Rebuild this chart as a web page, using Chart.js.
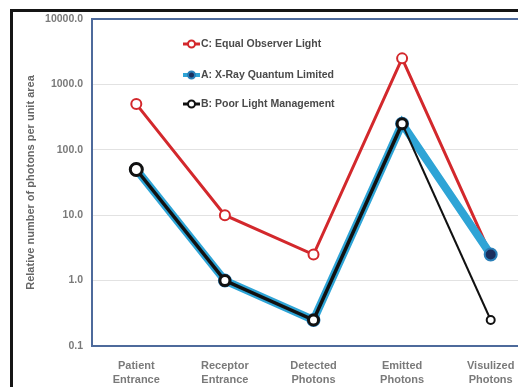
<!DOCTYPE html>
<html>
<head>
<meta charset="utf-8">
<script src="https://cdn.jsdelivr.net/npm/chart.js@4.4.1/dist/chart.umd.min.js"></script>
<style>
    html, body { margin: 0; padding: 0; background: #fff; overflow: hidden; }
    #frame {
        position: absolute; left: 10px; top: 9px; width: 520px; height: 390px;
        border-left: 3px solid #151515; border-top: 3px solid #151515;
    }
    #chart { position: absolute; left: 0; top: 0; }
</style>
</head>
<body>
<div id="frame"></div>
<canvas id="chart" width="545" height="387"></canvas>
<script>
// Data
const categories = [
    ['Patient', 'Entrance'],
    ['Receptor', 'Entrance'],
    ['Detected', 'Photons'],
    ['Emitted', 'Photons'],
    ['Visulized', 'Photons']
];
const equalObserver = [500, 10, 2.5, 2500, 2.5];      // C
const xrayQuantum = [50, 1, 0.25, 250, 2.5];          // A
const poorLight = [50, 1, 0.25, 250, 0.25];           // B
const yTicks = [0.1, 1, 10, 100, 1000, 10000];

const labelFont = "'Liberation Sans', Arial, sans-serif";

// Plot area frame
const plotBorder = {
    id: 'plotBorder',
    beforeDatasetsDraw(chart) {
        const { ctx, chartArea: a } = chart;
        ctx.save();
        ctx.strokeStyle = '#4d6a9b';
        ctx.lineWidth = 2;
        ctx.strokeRect(a.left, a.top, a.right - a.left, a.bottom - a.top);
        ctx.restore();
    }
};

// Legend drawn inside the plot area, in the order C, A, B
const innerLegend = {
    id: 'innerLegend',
    afterDatasetsDraw(chart) {
        const { ctx, chartArea: a } = chart;
        const rows = [25, 56, 85];
        ctx.save();
        chart.data.datasets.forEach((ds, i) => {
            const y = a.top + rows[i];
            const x = a.left + 91;
            ctx.strokeStyle = ds.borderColor;
            ctx.lineWidth = ds.legendLine;
            ctx.beginPath();
            ctx.moveTo(x, y);
            ctx.lineTo(x + 17, y);
            ctx.stroke();
            ctx.beginPath();
            ctx.arc(x + 8.5, y, 3.5, 0, Math.PI * 2);
            ctx.fillStyle = ds.pointBackgroundColor;
            ctx.fill();
            ctx.lineWidth = 2;
            ctx.strokeStyle = ds.pointBorderColor;
            ctx.stroke();
            ctx.fillStyle = '#4a4a4a';
            ctx.font = 'bold 10.5px ' + labelFont;
            ctx.textBaseline = 'middle';
            ctx.fillText(ds.label, x + 18, y + 0.5);
        });
        ctx.restore();
    }
};

new Chart(document.getElementById('chart'), {
    type: 'line',
    data: {
        labels: categories,
        datasets: [
            {
                label: 'C: Equal Observer Light',
                data: equalObserver,
                borderColor: '#d3282c',
                borderWidth: 3,
                pointRadius: 5,
                pointBorderWidth: 2,
                pointBackgroundColor: '#ffffff',
                pointBorderColor: '#d3282c',
                legendLine: 3,
                order: 3
            },
            {
                label: 'A: X-Ray Quantum Limited',
                data: xrayQuantum,
                borderColor: '#2ea4d6',
                borderWidth: 8,
                pointRadius: 6,
                pointBorderWidth: 2,
                pointBackgroundColor: '#1b2f5e',
                pointBorderColor: '#2a7fb8',
                legendLine: 4,
                order: 2
            },
            {
                label: 'B: Poor Light Management',
                data: poorLight,
                borderColor: '#111111',
                borderWidth: 3.5,
                segment: { borderWidth: c => c.p1DataIndex === 4 ? 2 : 3.5 },
                pointRadius: [6, 5, 5, 5, 4],
                pointBorderWidth: [3, 3, 3, 3, 2],
                pointBackgroundColor: '#ffffff',
                pointBorderColor: '#111111',
                legendLine: 3,
                order: 1
            }
        ]
    },
    options: {
        responsive: false,
        animation: false,
        layout: { padding: { left: 24, top: 19, right: 10, bottom: 0 } },
        scales: {
            x: {
                offset: true,
                grid: { display: false },
                border: { display: false },
                ticks: {
                    color: '#7a7a7a',
                    font: { family: labelFont, size: 11, weight: 'bold', lineHeight: 1.3 },
                    padding: 5,
                    maxRotation: 0
                },
                afterFit: s => { s.height = 41; }
            },
            y: {
                type: 'logarithmic',
                min: 0.1,
                max: 10000,
                afterBuildTicks: s => { s.ticks = yTicks.map(v => ({ value: v })); },
                grid: { color: '#e2e2e2', drawTicks: false },
                border: { display: false },
                ticks: {
                    color: '#7a7a7a',
                    font: { family: labelFont, size: 10.5, weight: 'bold' },
                    padding: 9,
                    callback: v => Number(v).toFixed(1)
                },
                title: {
                    display: true,
                    text: 'Relative number of photons per unit area',
                    color: '#666666',
                    font: { family: labelFont, size: 11, weight: 'bold' },
                    padding: { top: 0, bottom: 2 }
                },
                afterFit: s => { s.width = 68; }
            }
        },
        plugins: {
            legend: { display: false },
            tooltip: { enabled: false }
        }
    },
    plugins: [plotBorder, innerLegend]
});
</script>
</body>
</html>
